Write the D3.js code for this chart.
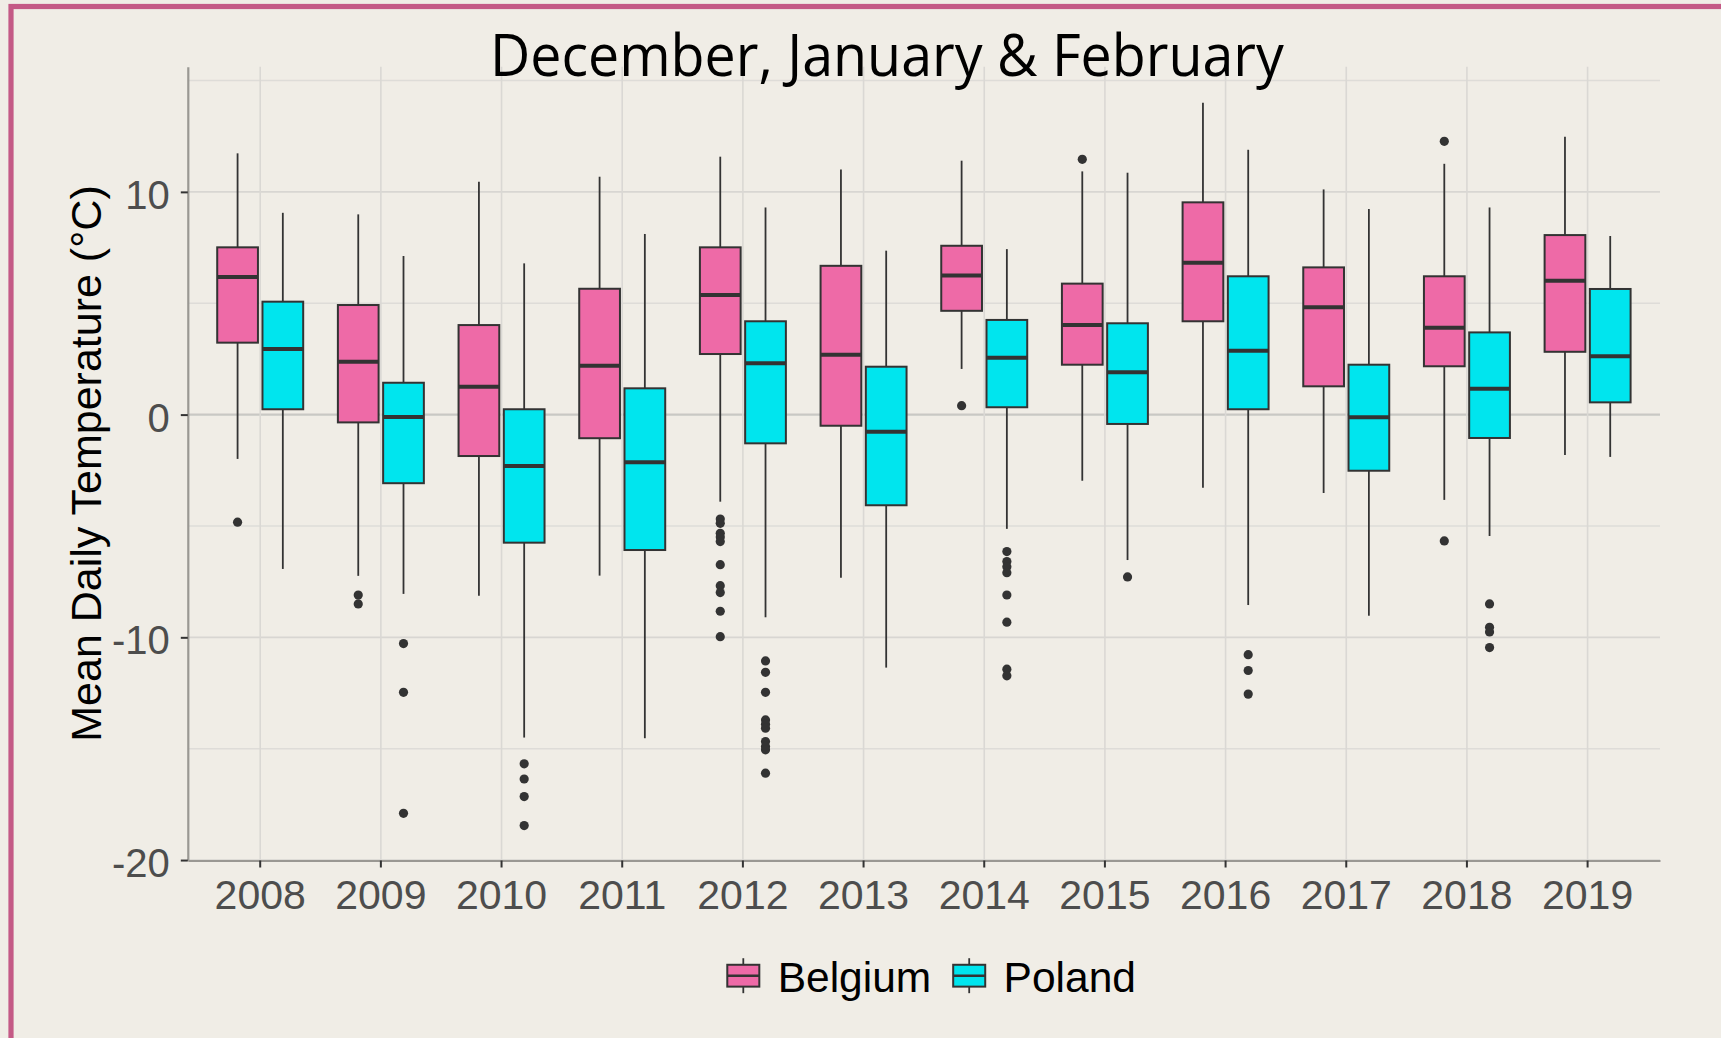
<!DOCTYPE html>
<html><head><meta charset="utf-8">
<script src="https://cdn.jsdelivr.net/npm/d3@7"></script>
<style>html,body{margin:0;padding:0;background:#F0EDE6;overflow:hidden}svg{display:block}</style>
</head><body><svg id="c" width="1721" height="1038"></svg>
<script>
// ---- data ----
const years = ['2008','2009','2010','2011','2012','2013','2014','2015','2016','2017','2018','2019'];
const countries = ['Belgium','Poland'];
const countryColors = ['#EE6AA7','#00E5EE'];

const belgiumLow  = [-1.99,-7.24,-8.13,-7.23,-3.91,-7.32, 2.05,-2.97,-3.28,-3.52,-3.83,-1.81];
const belgiumQ1   = [ 3.23,-0.35,-1.86,-1.06, 2.72,-0.50, 4.66, 2.24, 4.19, 1.27, 2.17, 2.82];
const belgiumMed  = [ 6.18, 2.37, 1.25, 2.19, 5.37, 2.69, 6.25, 4.02, 6.82, 4.82, 3.90, 6.01];
const belgiumQ3   = [ 7.51, 4.92, 4.02, 5.65, 7.51, 6.68, 7.58, 5.88, 9.53, 6.61, 6.21, 8.06];
const belgiumHigh = [11.73, 8.99,10.45,10.68,11.58,11.01,11.40,10.92,14.00,10.11,11.26,12.47];
const belgiumOut  = [[-4.83],[-8.1,-8.5],[],[],
  [-4.69,-4.88,-5.33,-5.5,-5.70,-6.74,-7.68,-7.99,-8.83,-9.97],[],[0.40],[11.46],[],[],[12.27,-5.67],[]];

const polandLow  = [-6.93,-8.05,-14.50,-14.53,-9.10,-11.36,-5.13,-6.53,-8.55,-9.03,-5.45,-1.90];
const polandQ1   = [ 0.24,-3.08, -5.75, -6.08,-1.29, -4.07, 0.33,-0.42, 0.24,-2.52,-1.05, 0.55];
const polandMed  = [ 2.94,-0.11, -2.31, -2.14, 2.30, -0.77, 2.55, 1.90, 2.87,-0.12, 1.16, 2.62];
const polandQ3   = [ 5.07, 1.43,  0.24,  1.18, 4.19,  2.15, 4.25, 4.10, 6.21, 2.24, 3.69, 5.64];
const polandHigh = [ 9.06, 7.12,  6.79,  8.11, 9.30,  7.36, 7.43,10.86,11.89, 9.23, 9.30, 8.02];
const polandOut  = [[],[-10.28,-12.47,-17.9],[-15.68,-16.36,-17.15,-18.45],[],
  [-11.06,-11.57,-12.47,-13.71,-13.9,-14.08,-14.68,-14.9,-15.05,-16.1],[],
  [-6.15,-6.6,-6.83,-7.1,-8.1,-9.32,-11.43,-11.73],[-7.29],[-10.78,-11.49,-12.55],[],
  [-8.5,-9.55,-9.76,-10.46],[]];

const yMajorTicks = [-20,-10,0,10];
const yTickLabels = ['-20','-10','0','10'];
const yMinorTicks = [-15,-5,5,15];
const titleText = 'December, January & February';
const yTitleText = 'Mean Daily Temperature (°C)';

// ---- build rows ----
const series = {
  Belgium: {low: belgiumLow, q1: belgiumQ1, med: belgiumMed, q3: belgiumQ3, high: belgiumHigh, out: belgiumOut},
  Poland:  {low: polandLow,  q1: polandQ1,  med: polandMed,  q3: polandQ3,  high: polandHigh,  out: polandOut}
};
const rows = [];
countries.forEach(c => years.forEach((y, i) => {
  const s = series[c];
  rows.push({country: c, year: y, low: s.low[i], q1: s.q1[i], med: s.med[i], q3: s.q3[i], high: s.high[i], out: s.out[i]});
}));

// ---- layout ----
const svg = d3.select('#c');
const P = {left: 187.8, right: 1660, top: 66.7, bottom: 860.5};

svg.append('rect').attr('x',0).attr('y',0).attr('width',1721).attr('height',1038).attr('fill','#F0EDE6');
svg.append('rect').attr('x',11).attr('y',6.5).attr('width',3000).attr('height',3000)
  .attr('fill','none').attr('stroke','#C45A86').attr('stroke-width',5.2);

const x = d3.scaleBand().domain(years).range([P.left, P.right]).paddingInner(0).paddingOuter(0.1);
const step = x.step();
const sub = d3.scaleBand().domain(countries).range([-0.375*step, 0.375*step]);
const color = d3.scaleOrdinal().domain(countries).range(countryColors);
const y = d3.scaleLinear().domain([-20.02, 15.62]).range([P.bottom, P.top]);
const cx = d => x(d.year) + x.bandwidth()/2 + sub(d.country) + sub.bandwidth()/2;
const boxW = sub.bandwidth()*0.9;

const g = svg.append('g');
// gridlines
g.selectAll('.minor').data(yMinorTicks).join('line')
  .attr('x1',P.left).attr('x2',P.right).attr('y1',d=>y(d)).attr('y2',d=>y(d))
  .attr('stroke','#DEDCD8').attr('stroke-width',1.6);
g.selectAll('.major').data(yMajorTicks).join('line')
  .attr('x1',P.left).attr('x2',P.right).attr('y1',d=>y(d)).attr('y2',d=>y(d))
  .attr('stroke',d=> d===0 ? '#C9C8C4' : '#D8D6D2').attr('stroke-width',d=> d===0 ? 2.2 : 1.8);
g.selectAll('.vg').data(years).join('line')
  .attr('x1',d=>x(d)+x.bandwidth()/2).attr('x2',d=>x(d)+x.bandwidth()/2)
  .attr('y1',P.top).attr('y2',P.bottom)
  .attr('stroke','#DAD8D4').attr('stroke-width',1.6);

// axes
const xAxis = svg.append('g').attr('transform',`translate(0,${P.bottom})`)
  .call(d3.axisBottom(x).tickSize(7).tickSizeOuter(0).tickPadding(12));
const yAxis = svg.append('g').attr('transform',`translate(${P.left},0)`)
  .call(d3.axisLeft(y).tickValues(yMajorTicks).tickFormat((d,i)=>yTickLabels[i]).tickSize(7).tickSizeOuter(0).tickPadding(11));
[xAxis, yAxis].forEach(a => {
  a.select('.domain').attr('stroke','#9A9893').attr('stroke-width',2.2);
  a.selectAll('.tick line').attr('stroke','#333333').attr('stroke-width',2);
  a.selectAll('.tick text').attr('fill','#4D4D4D').style('font-family','"Liberation Sans", Arial, sans-serif').style('font-size','40px');
});
xAxis.selectAll('.tick text').style('font-size','41px');
yAxis.selectAll('.tick text').attr('dy','0.41em');

// boxes
const bx = svg.append('g');
const grp = bx.selectAll('g.box').data(rows).join('g').attr('class','box');
grp.append('line').attr('x1',cx).attr('x2',cx).attr('y1',d=>y(d.high)).attr('y2',d=>y(d.q3))
  .attr('stroke','#333333').attr('stroke-width',1.8);
grp.append('line').attr('x1',cx).attr('x2',cx).attr('y1',d=>y(d.q1)).attr('y2',d=>y(d.low))
  .attr('stroke','#333333').attr('stroke-width',1.8);
grp.append('rect').attr('x',d=>cx(d)-boxW/2).attr('width',boxW)
  .attr('y',d=>y(d.q3)).attr('height',d=>y(d.q1)-y(d.q3))
  .attr('fill',d=>color(d.country)).attr('stroke','#333333').attr('stroke-width',2);
grp.append('line').attr('x1',d=>cx(d)-boxW/2).attr('x2',d=>cx(d)+boxW/2)
  .attr('y1',d=>y(d.med)).attr('y2',d=>y(d.med)).attr('stroke','#333333').attr('stroke-width',4);
grp.selectAll('circle').data(d=>d.out.map(v=>({v, c: cx(d)}))).join('circle')
  .attr('cx',d=>d.c).attr('cy',d=>y(d.v)).attr('r',4.6).attr('fill','#333333');

// title
svg.append('text').attr('x',886.9).attr('y',76).attr('text-anchor','middle')
  .attr('textLength',794).attr('lengthAdjust','spacingAndGlyphs')
  .style('font-family','"Open Sans", sans-serif').style('font-size','59px').attr('fill','#000')
  .text(titleText);

// y title
svg.append('text').attr('transform','translate(101.4,463.5) rotate(-90)').attr('text-anchor','middle')
  .style('font-family','"Liberation Sans", Arial, sans-serif').style('font-size','43px').attr('fill','#000')
  .text(yTitleText);

// legend
const legendKeyX = [743.3, 969.2];
const kw = 42.7, kh = 43.7, ky = 975.7;
const lg = svg.append('g').selectAll('g').data(countries).join('g')
  .attr('transform',(d,i)=>`translate(${legendKeyX[i]},${ky})`);
lg.append('line').attr('x1',0).attr('x2',0).attr('y1',-0.4*kh).attr('y2',0.4*kh).attr('stroke','#333333').attr('stroke-width',1.8);
lg.append('rect').attr('x',-0.375*kw).attr('width',0.75*kw).attr('y',-0.25*kh).attr('height',0.5*kh)
  .attr('fill',d=>color(d)).attr('stroke','#333333').attr('stroke-width',2);
lg.append('line').attr('x1',-0.375*kw).attr('x2',0.375*kw).attr('y1',0).attr('y2',0).attr('stroke','#333333').attr('stroke-width',2.5);
lg.append('text').attr('x',34.4).attr('y',16).style('font-family','"Liberation Sans", Arial, sans-serif')
  .style('font-size','42.5px').attr('fill','#000').text(d=>d);
</script></body></html>
